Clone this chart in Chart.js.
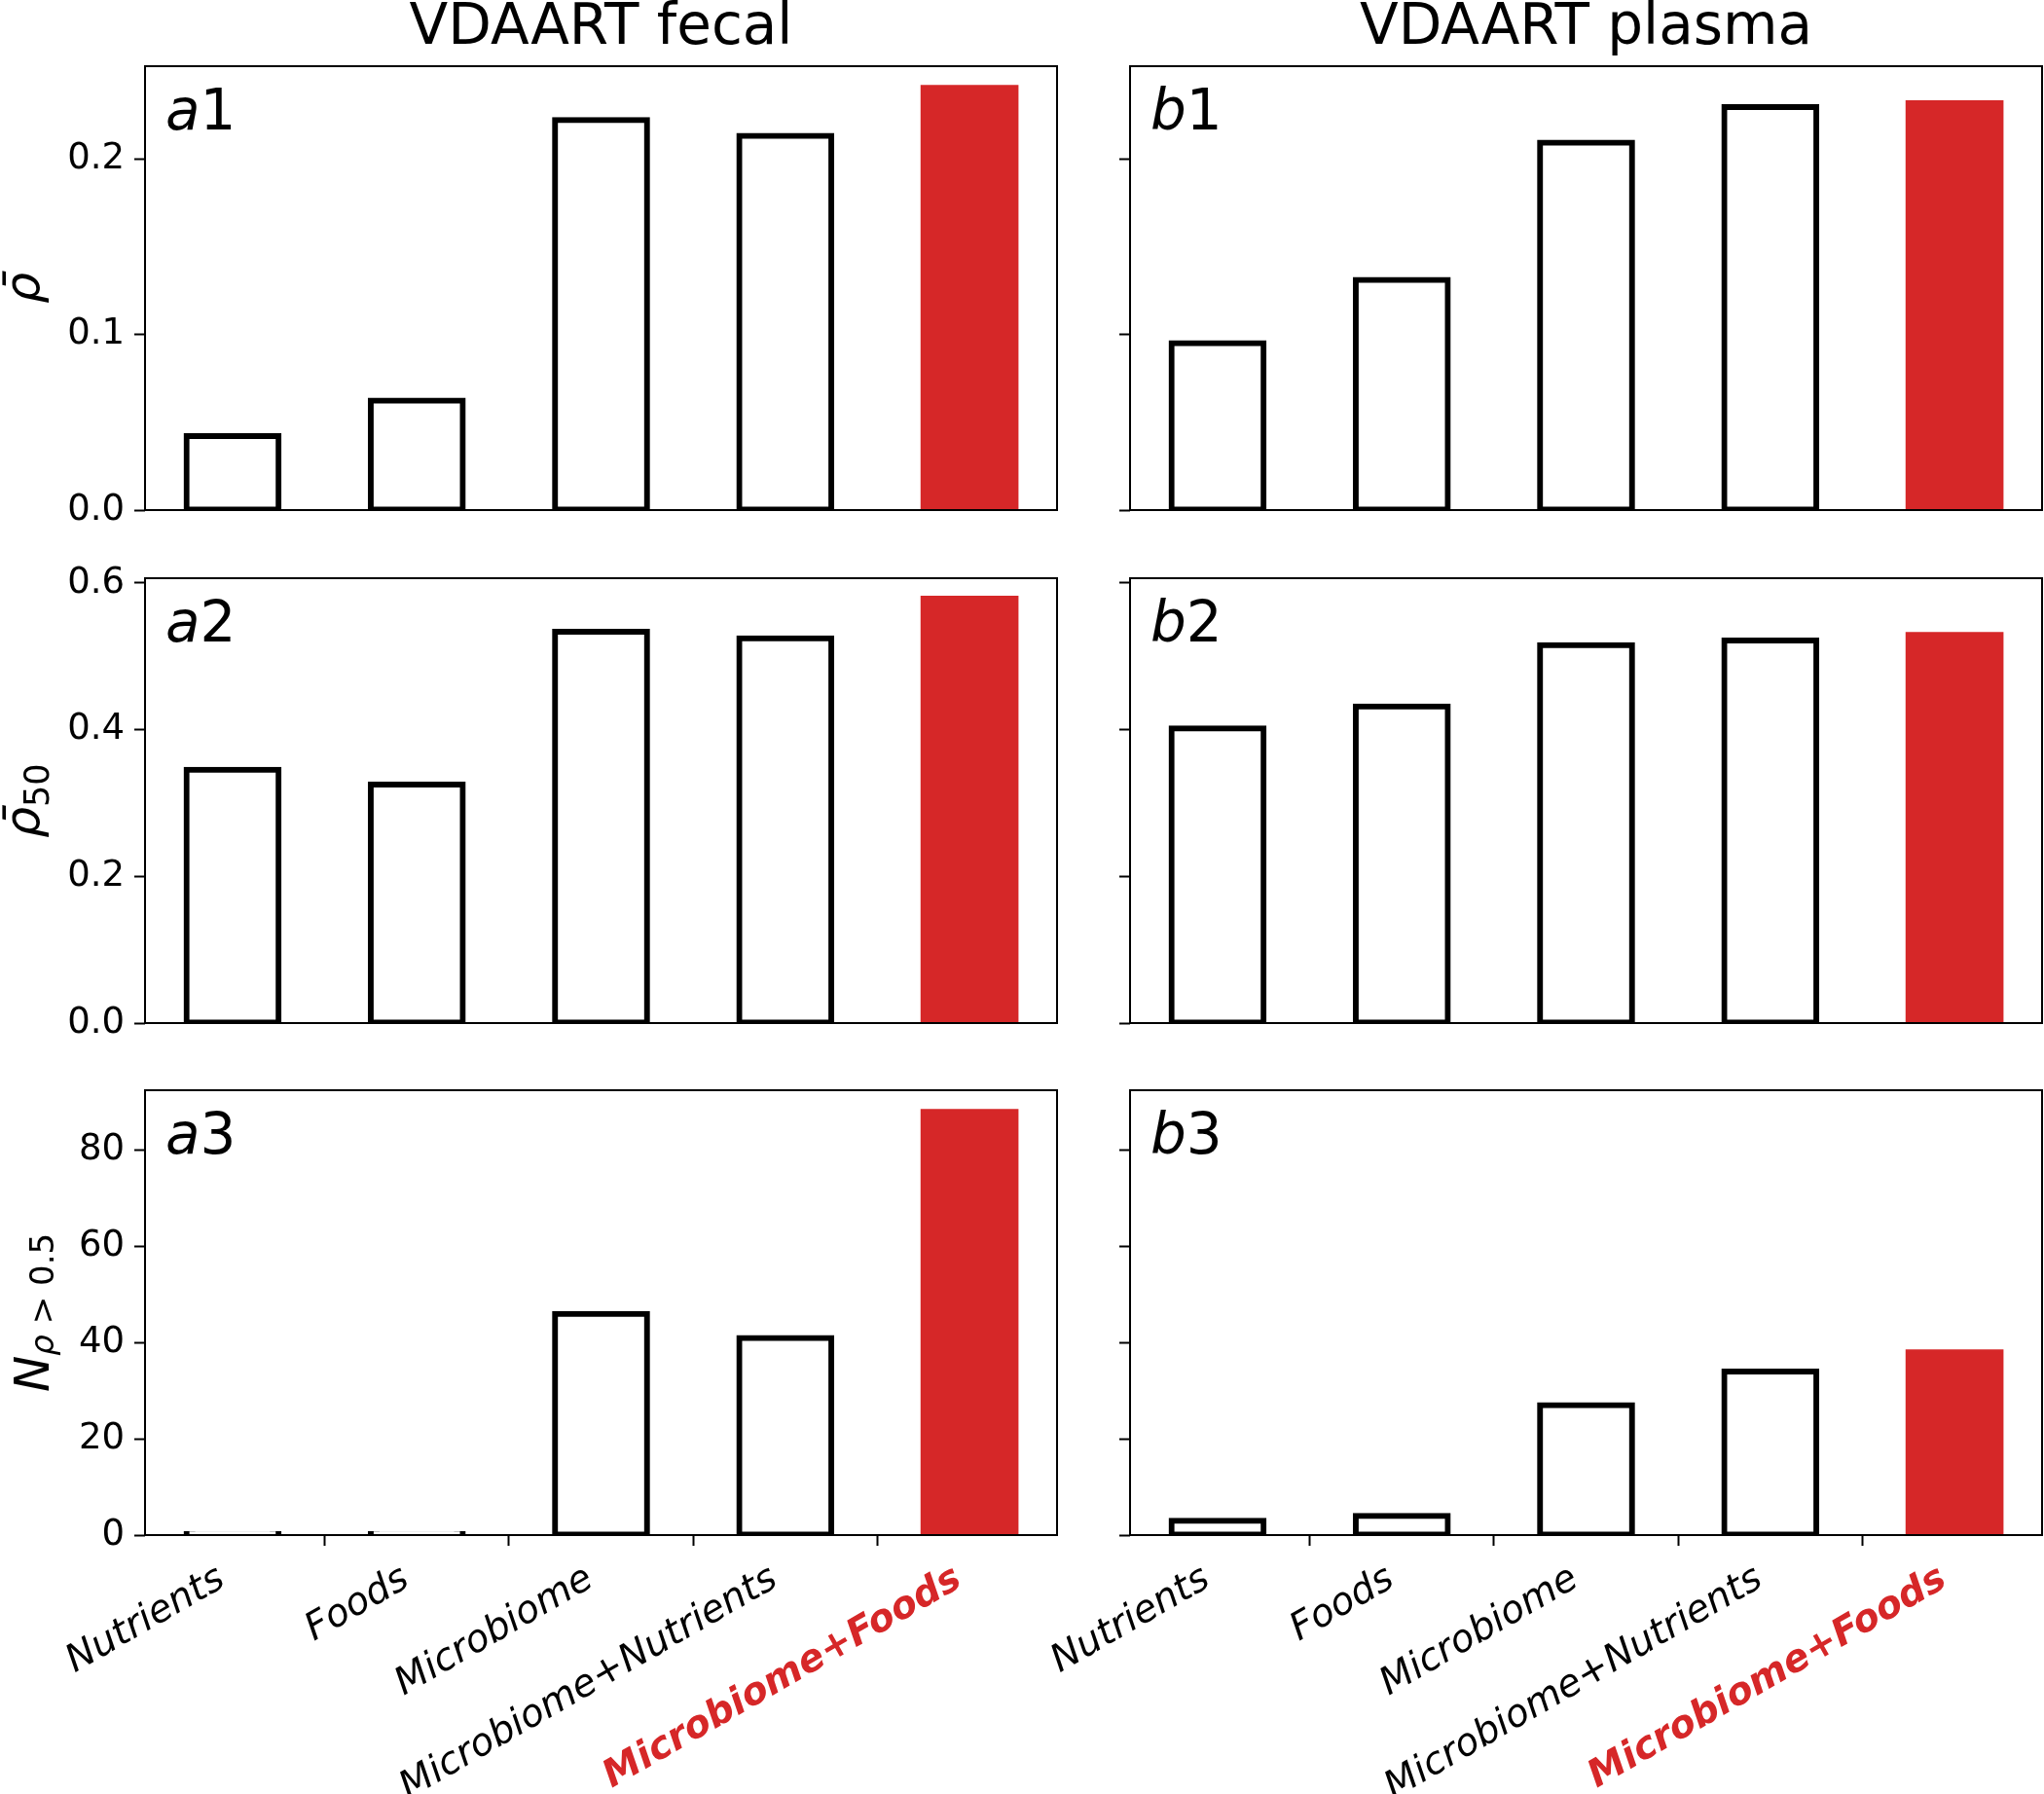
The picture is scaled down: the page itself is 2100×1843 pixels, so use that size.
<!DOCTYPE html>
<html>
<head>
<meta charset="utf-8">
<script src="https://cdn.jsdelivr.net/npm/chart.js@4.4.1/dist/chart.umd.min.js"></script>
<style>
  body { margin: 0; background: #fff; }
  #fig { position: relative; width: 2100px; height: 1843px; overflow: hidden; background: #fff; }
  #fig canvas { position: absolute; }
</style>
</head>
<body>
<div id="fig"></div>
<script>
// categories on the x axis (same for every panel)
const categories = ["Nutrients", "Foods", "Microbiome", "Microbiome+Nutrients", "Microbiome+Foods"];

// VDAART fecal (left column)
const fecalRho = [0.0422, 0.0624, 0.2222, 0.2132, 0.2405];
const fecalRho50 = [0.3453, 0.3252, 0.5337, 0.5245, 0.5788];
const fecalCount = [0, 0, 46, 41, 88];

// VDAART plasma (right column)
const plasmaRho = [0.0951, 0.1311, 0.2093, 0.2295, 0.2318];
const plasmaRho50 = [0.4017, 0.4316, 0.5155, 0.5218, 0.5292];
const plasmaCount = [3, 4, 27, 34, 38];

// y ticks per row
const rhoTicks = [0, 0.1, 0.2];
const rhoTickLabels = ["0.0", "0.1", "0.2"];
const rho50Ticks = [0, 0.2, 0.4, 0.6];
const rho50TickLabels = ["0.0", "0.2", "0.4", "0.6"];
const countTicks = [0, 20, 40, 60, 80];
const countTickLabels = ["0", "20", "40", "60", "80"];
const yMax = [0.2528, 0.6066, 92.5];

const titles = ["VDAART fecal", "VDAART plasma"];

const red = "#d62728";
const FAM = "DejaVu Sans";

// layout of the figure (pixels)
const colBox = [
  { left: 0, axisW: 149, plotW: 937, padR: 4 },
  { left: 1041, axisW: 120, plotW: 937, padR: 2 }
];
const rowBox = [
  { top: 0, padT: 68, plotH: 456, padB: 20, axisH: 0 },
  { top: 544, padT: 50, plotH: 457, padB: 20, axisH: 0 },
  { top: 1070, padT: 50, plotH: 457, padB: 0, axisH: 266 }
];

// y-axis labels, written as runs of text (mathtext-like)
const yLabels = [
  [{ t: "\u03C1\u0304", it: true }],
  [{ t: "\u03C1\u0304", it: true }, { t: "50", sc: 0.7, sh: 0.2 }],
  [{ t: "N", it: true }, { t: "\u03C1", it: true, sc: 0.68, sh: 0.1 }, { t: " > 0.5", sc: 0.68, sh: 0.1 }]
];

const panels = [
  { row: 0, col: 0, values: fecalRho, ticks: rhoTicks, labels: rhoTickLabels, tag: "1" },
  { row: 1, col: 0, values: fecalRho50, ticks: rho50Ticks, labels: rho50TickLabels, tag: "2" },
  { row: 2, col: 0, values: fecalCount, ticks: countTicks, labels: countTickLabels, tag: "3" },
  { row: 0, col: 1, values: plasmaRho, ticks: rhoTicks, labels: rhoTickLabels, tag: "1" },
  { row: 1, col: 1, values: plasmaRho50, ticks: rho50Ticks, labels: rho50TickLabels, tag: "2" },
  { row: 2, col: 1, values: plasmaCount, ticks: countTicks, labels: countTickLabels, tag: "3" }
];

function drawRuns(ctx, runs, size) {
  // measure first so the label is centred
  let total = 0;
  runs.forEach(r => {
    ctx.font = (r.it ? "italic " : "") + Math.round(size * (r.sc || 1)) + 'px "' + FAM + '"';
    r.w = ctx.measureText(r.t).width;
    total += r.w;
  });
  let x = -total / 2;
  runs.forEach(r => {
    ctx.font = (r.it ? "italic " : "") + Math.round(size * (r.sc || 1)) + 'px "' + FAM + '"';
    ctx.fillText(r.t, x, (r.sh || 0) * size);
    x += r.w;
  });
}

const decor = p => ({
  id: "decor",
  afterDraw(chart) {
    const { ctx, chartArea: a } = chart;
    ctx.save();
    // full box around the axes
    ctx.strokeStyle = "#000";
    ctx.lineWidth = 2;
    ctx.strokeRect(a.left, a.top, a.right - a.left, a.bottom - a.top);

    // panel tag: a1, b2 ...
    ctx.fillStyle = "#000";
    ctx.textBaseline = "alphabetic";
    ctx.textAlign = "left";
    ctx.font = 'italic 58px "' + FAM + '"';
    const letter = p.col === 0 ? "a" : "b";
    const lx = a.left + 21;
    ctx.fillText(letter, lx, a.top + 65);
    const lw = ctx.measureText(letter).width;
    ctx.font = '58px "' + FAM + '"';
    ctx.fillText(p.tag, lx + lw, a.top + 65);

    // column title
    if (p.row === 0) {
      ctx.textAlign = "center";
      ctx.font = '58px "' + FAM + '"';
      ctx.fillText(titles[p.col], (a.left + a.right) / 2, 45);
    }

    // y label on the left column
    if (p.col === 0) {
      ctx.textAlign = "left";
      ctx.translate(p.row === 2 ? 50 : 40, (a.top + a.bottom) / 2);
      ctx.rotate(-Math.PI / 2);
      drawRuns(ctx, yLabels[p.row].map(r => Object.assign({}, r)), 50);
    }
    ctx.restore();
  }
});

const fig = document.getElementById("fig");

panels.forEach(p => {
  const c = colBox[p.col];
  const r = rowBox[p.row];
  const w = c.axisW + c.plotW + c.padR;
  const h = r.padT + r.plotH + r.axisH + r.padB;
  const cv = document.createElement("canvas");
  cv.width = w;
  cv.height = h;
  cv.style.left = c.left + "px";
  cv.style.top = r.top + "px";
  cv.style.width = w + "px";
  cv.style.height = h + "px";
  fig.appendChild(cv);

  const showX = p.row === 2;

  new Chart(cv, {
    type: "bar",
    data: {
      datasets: [{
        data: p.values.map((v, i) => ({ x: i, y: v })),
        backgroundColor: categories.map((_, i) => (i === 4 ? red : "#fff")),
        borderColor: "#000",
        borderWidth: categories.map((_, i) => (i === 4 ? 0 : 6)),
        borderSkipped: false,
        // edge centred on the bar outline, as in matplotlib
        inflateAmount: 3,
        minBarLength: 1,
        barPercentage: 0.5,
        categoryPercentage: 1
      }]
    },
    options: {
      responsive: false,
      animation: false,
      devicePixelRatio: 1,
      layout: { padding: { top: r.padT, bottom: r.padB, left: 0, right: c.padR } },
      plugins: { legend: { display: false }, tooltip: { enabled: false } },
      scales: {
        x: {
          type: "linear",
          min: -0.475,
          max: 4.475,
          offset: false,
          display: showX,
          afterBuildTicks: ax => { ax.ticks = categories.map((_, i) => ({ value: i })); },
          afterFit: s => {
            s.height = r.axisH;
            s.paddingLeft = 0;
            s.paddingRight = 0;
          },
          border: { display: false },
          grid: {
            display: showX,
            drawOnChartArea: false,
            drawTicks: true,
            tickLength: 11,
            tickWidth: 2,
            tickColor: "#000"
          },
          ticks: {
            display: showX,
            autoSkip: false,
            minRotation: 30,
            maxRotation: 30,
            padding: 12,
            labelOffset: -11,
            callback: v => categories[v],
            color: ctx => (ctx.index === 4 ? red : "#000"),
            font: ctx => ({
              family: FAM,
              size: 39,
              style: "italic",
              weight: ctx.index === 4 ? "bold" : "normal",
              lineHeight: 1.16
            })
          }
        },
        y: {
          min: 0,
          max: yMax[p.row],
          afterBuildTicks: ax => { ax.ticks = p.ticks.map(v => ({ value: v })); },
          afterFit: s => {
            s.width = c.axisW;
            s.paddingTop = 0;
            s.paddingBottom = 0;
          },
          border: { display: false },
          grid: {
            drawOnChartArea: false,
            drawTicks: true,
            tickLength: 11,
            tickWidth: 2,
            tickColor: "#000"
          },
          ticks: {
            display: p.col === 0,
            padding: 10,
            color: "#000",
            font: { family: FAM, size: 37 },
            callback: v => p.labels[p.ticks.indexOf(v)]
          }
        }
      }
    },
    plugins: [decor(p)]
  });
});
</script>
</body>
</html>
